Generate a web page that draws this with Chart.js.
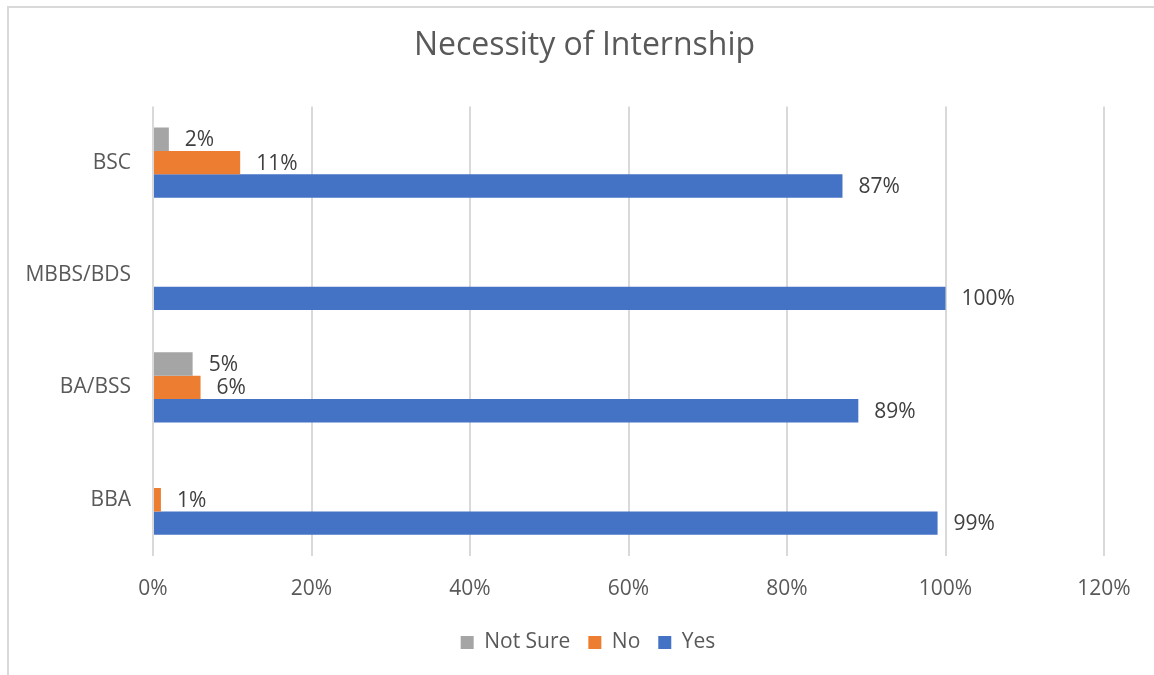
<!DOCTYPE html>
<html>
<head>
<meta charset="utf-8">
<script src="https://cdn.jsdelivr.net/npm/chart.js@4/dist/chart.umd.min.js"></script>
<style>
  html, body { margin: 0; padding: 0; background: #fff; }
  #wrap { position: relative; width: 1154px; height: 675px; overflow: hidden; }
  #frame { position: absolute; left: 7px; top: 6px; width: 1200px; height: 700px;
           border-top: 2px solid #d9d9d9; border-left: 2px solid #d9d9d9; box-sizing: border-box; }
  #myChart { position: absolute; left: 0; top: 0; }
</style>
</head>
<body>
<div id="wrap">
  <div id="frame"></div>
  <canvas id="myChart" width="1154" height="675"></canvas>
</div>
<script>
// survey answers per programme, in percent
const programmes = ['BSC', 'MBBS/BDS', 'BA/BSS', 'BBA'];
const notSure = [2, null, 5, null];
const no = [11, null, 6, 1];
const yes = [87, 100, 89, 99];
const xTicks = [0, 20, 40, 60, 80, 100, 120];

const FONT = '"Open Sans", "Noto Sans", sans-serif';

// writes "n%" just past the end of each bar
const barLabels = {
  id: 'barLabels',
  afterDatasetsDraw(chart) {
    const ctx = chart.ctx;
    ctx.save();
    ctx.font = '21px ' + FONT;
    ctx.fillStyle = '#404040';
    ctx.textAlign = 'left';
    ctx.textBaseline = 'middle';
    chart.data.datasets.forEach((ds, i) => {
      const meta = chart.getDatasetMeta(i);
      meta.data.forEach((bar, j) => {
        const v = ds.data[j];
        if (v === null || v === undefined) return;
        ctx.fillText(v + '%', bar.x + 16, bar.y + 1);
      });
    });
    ctx.restore();
  }
};

// title and legend sit centred a little right of the canvas middle
const shiftBlocks = {
  id: 'shiftBlocks',
  afterLayout(chart) {
    if (chart.titleBlock) chart.titleBlock.left = 65;
    if (chart.legend) chart.legend.left = 72;
  }
};

var ctx = document.getElementById('myChart');
var myChart = new Chart(ctx, {
  type: 'bar',
  data: {
    labels: programmes,
    datasets: [
      { label: 'Not Sure', data: notSure, backgroundColor: '#a5a5a5' },
      { label: 'No', data: no, backgroundColor: '#ed7d31' },
      { label: 'Yes', data: yes, backgroundColor: '#4472c4' }
    ]
  },
  options: {
    indexAxis: 'y',
    responsive: false,
    animation: false,
    devicePixelRatio: 1,
    layout: { padding: { left: 0, right: 50, top: 0, bottom: 12 } },
    datasets: {
      bar: { barPercentage: 1, categoryPercentage: 0.624, borderWidth: 0 }
    },
    scales: {
      x: {
        min: 0,
        max: 120,
        afterBuildTicks(scale) { scale.ticks = xTicks.map(v => ({ value: v })); },
        afterFit(scale) { scale.height = 58; },
        grid: { color: '#d9d9d9', lineWidth: 2, drawTicks: false },
        border: { display: false },
        ticks: {
          padding: 20,
          color: '#595959',
          font: { family: FONT, size: 21 },
          callback: v => v + '%'
        }
      },
      y: {
        afterFit(scale) { scale.width = 153; },
        grid: { display: false, drawTicks: false },
        border: { display: false },
        ticks: {
          padding: 22,
          color: '#595959',
          font: { family: FONT, size: 21 }
        }
      }
    },
    plugins: {
      title: {
        display: true,
        text: 'Necessity of Internship',
        color: '#595959',
        font: { family: FONT, size: 32, weight: 'normal' },
        padding: { top: 27, bottom: 41 }
      },
      legend: {
        position: 'bottom',
        labels: {
          boxWidth: 13,
          boxHeight: 13,
          padding: 18,
          color: '#595959',
          font: { family: FONT, size: 21 }
        }
      },
      tooltip: { enabled: false }
    }
  },
  plugins: [barLabels, shiftBlocks]
});
</script>
</body>
</html>
